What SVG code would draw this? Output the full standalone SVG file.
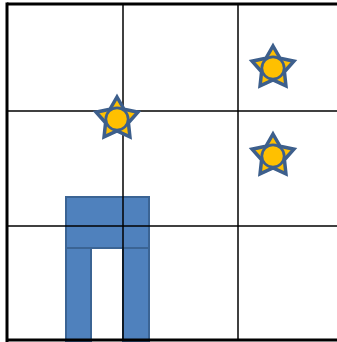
<svg xmlns="http://www.w3.org/2000/svg" xmlns:xlink="http://www.w3.org/1999/xlink" width="337" height="342" viewBox="0 0 337 342">
<style>
.bar{fill:#4F81BD;stroke:#3B6494;stroke-width:2}
.grid{stroke:#000;stroke-width:1.5;fill:none}
.border{stroke:#000;stroke-width:3;fill:none}
</style>
<defs>
<g id="star">
<polygon points="0,-22 7.05,-9.7 20.92,-6.8 11.41,3.71 12.93,17.8 0,12 -12.93,17.8 -11.41,3.71 -20.92,-6.8 -7.05,-9.7" fill="#FFC000" stroke="#3D5F8C" stroke-width="3.5"/>
<circle r="12.5" fill="#3D5F8C"/>
<circle r="9.8" fill="#FFC000"/>
</g>
</defs>
<rect width="337" height="342" fill="#fff"/>
<g id="door">
<rect class="bar" x="66" y="197" width="83" height="51"/>
<rect class="bar" x="66" y="248" width="25" height="94"/>
<rect class="bar" x="123" y="248" width="26" height="94"/>
</g>
<g id="connectors">
<line class="grid" x1="123" y1="4" x2="123" y2="340"/>
<line class="grid" x1="238" y1="4" x2="238" y2="340"/>
<line class="grid" x1="7" y1="111" x2="337" y2="111"/>
<line class="grid" x1="7" y1="226" x2="337" y2="226"/>
<line class="border" x1="7" y1="4" x2="337" y2="4"/>
<line class="border" x1="7" y1="2.5" x2="7" y2="342"/>
<line class="border" x1="7" y1="340" x2="337" y2="340"/>
</g>
<g id="star1"><use xlink:href="#star" transform="translate(117,119)"/></g>
<g id="star2"><use xlink:href="#star" transform="translate(273,68)"/></g>
<g id="star3"><use xlink:href="#star" transform="translate(273,156)"/></g>
</svg>
